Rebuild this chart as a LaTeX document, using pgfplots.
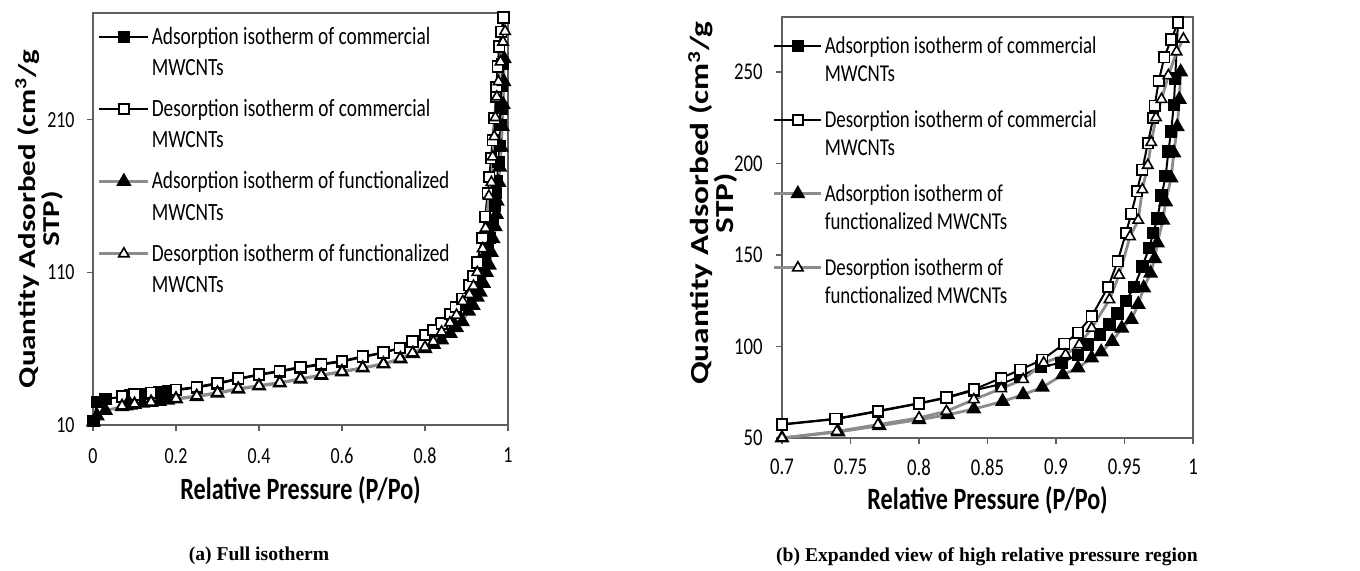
\documentclass[border=0pt]{standalone}
\usepackage{pgfplots}
\usepackage{pgfplotstable}
\pgfplotsset{compat=1.18}
\usepackage{fontspec}
\setmainfont{Carlito}
\newfontfamily\calf{Carlito}[FakeStretch=0.78]
\newfontfamily\calY{Carlito}[FakeStretch=1.28]
\newfontfamily\capf{Liberation Serif}

\definecolor{fgray}{RGB}{140,140,140}
\definecolor{axgray}{RGB}{95,95,95}

% commercial MWCNTs, adsorption
\pgfplotstableread{
x y
0.001 12.5
0.01 25
0.03 27
0.07 28.5
0.08 29
0.09 29.3
0.10 29.7
0.12 30.3
0.14 30.8
0.16 31.3
0.18 32
0.20 32.8
0.25 34.5
0.30 37
0.35 40
0.40 42.8
0.45 45
0.50 47.5
0.55 49.5
0.60 51.5
0.65 54.5
0.70 57.3
0.74 60.4
0.77 64.5
0.80 68.8
0.82 71.9
0.84 76
0.86 79.5
0.874 83.7
0.889 89
0.904 91
0.916 95.5
0.923 101
0.932 106.5
0.939 112
0.945 118
0.951 124.7
0.957 132.5
0.963 143.8
0.968 153.8
0.971 162
0.974 170
0.977 182.5
0.980 193
0.982 206.5
0.984 217.5
0.986 232
0.987 246.5
0.989 277
}\CA
% commercial MWCNTs, desorption
\pgfplotstableread{
x y
0.07 28.8
0.10 30
0.14 31.2
0.20 33.2
0.25 35
0.30 37.5
0.35 40.5
0.40 43.2
0.45 45.5
0.50 48
0.55 50
0.60 52
0.65 55
0.70 57.5
0.739 60.5
0.77 64.8
0.80 69
0.82 72.2
0.84 76.5
0.86 82.8
0.874 87.3
0.89 92.8
0.906 101.5
0.916 107.5
0.926 116.5
0.938 132.5
0.945 146.5
0.951 162
0.955 172.5
0.959 184.8
0.963 196.6
0.967 211
0.971 224.9
0.972 231.6
0.975 245
0.979 258
0.984 267.7
0.989 277
}\CD
% functionalized MWCNTs, adsorption
\pgfplotstableread{
x y
0.001 12
0.01 16
0.03 19.5
0.07 22
0.08 22.5
0.09 23
0.10 23.5
0.12 24.2
0.14 24.8
0.16 25.5
0.18 26.2
0.20 27
0.25 28.6
0.30 30.8
0.35 33.5
0.40 35.5
0.45 37.5
0.50 40
0.55 42.5
0.60 44.8
0.65 47.3
0.70 50
0.741 53.3
0.771 56.7
0.80 60
0.821 62.7
0.84 65.8
0.861 70
0.876 73.7
0.89 77.7
0.905 84.6
0.916 88.3
0.926 93.7
0.933 97
0.941 102.8
0.948 110
0.955 114.7
0.960 123
0.964 132
0.969 140
0.972 148
0.974 156.6
0.978 169
0.980 179
0.984 192
0.986 205.7
0.9885 220
0.990 235
0.991 250
}\FA
% functionalized MWCNTs, desorption
\pgfplotstableread{
x y
0.07 22.5
0.10 23.8
0.14 25
0.20 27.3
0.25 29
0.30 31.2
0.35 33.8
0.40 35.8
0.45 37.8
0.50 40.3
0.55 42.8
0.60 45
0.65 47.6
0.70 50
0.74 53.6
0.77 57.3
0.80 61
0.82 64.6
0.84 71
0.86 77
0.876 82
0.891 91
0.907 95.5
0.917 101
0.926 110
0.939 125.6
0.946 139
0.954 160
0.960 169
0.963 185.7
0.967 199
0.9695 211.5
0.973 225
0.977 235
0.982 248
0.988 261
0.993 268
}\FD

\pgfplotsset{
  isoaxis/.style={
    scale only axis,
    tick align=outside,
    major tick length=3pt,
    xtick pos=bottom, ytick pos=left,
    axis line style={axgray, line width=0.6pt},
    every tick/.style={axgray, line width=0.6pt},
    /pgf/number format/assume math mode=true,
    /pgf/number format/fixed,
    /pgf/number format/precision=2,
    xlabel={Relative Pressure (P/Po)},
    ylabel={Quantity Adsorbed (cm\textsuperscript{3}/g\\STP)},
    xlabel style={anchor=center, font=\calf\bfseries\fontsize{15.5}{18}\selectfont},
    ylabel style={anchor=center, align=center},
    legend cell align=left,
  },
  ca/.style={black, line width=1pt, mark=square*, mark size=2.6pt, mark options={fill=black, draw=black, solid}},
  cd/.style={black, line width=1pt, mark=square*, mark size=2.6pt, mark options={fill=white, draw=black, line width=0.9pt, solid}},
  fa/.style={fgray, line width=1.4pt, mark=triangle*, mark size=3pt, mark options={fill=black, draw=black, solid}},
  fd/.style={fgray, line width=1.4pt, mark=triangle*, mark size=3pt, mark options={fill=white, draw=black, line width=0.8pt, solid}},
}

\begin{document}
\begin{tikzpicture}
\useasboundingbox (0,0) rectangle (680pt,285pt);

% (a) full isotherm
\begin{axis}[isoaxis,
  at={(46.5pt,72.5pt)}, anchor=south west,
  width=207.5pt, height=206pt,
  xmin=0, xmax=1, ymin=10, ymax=280,
  xtick={0,0.2,0.4,0.6,0.8,1},
  ytick={10,110,210},
  tick label style={font=\calf\fontsize{11.5}{12}\selectfont},
  xticklabel style={yshift=-5pt},
  yticklabel style={xshift=-2.7pt},
  xlabel style={at={(axis description cs:0.5,-0.158)}},
  ylabel style={at={(axis description cs:-0.13,0.5)}, font=\calY\bfseries\fontsize{12.1}{12}\selectfont},
  legend style={draw=none, fill=none, at={(axis description cs:0.012,0.971)}, anchor=north west,
    row sep=8.3pt, inner sep=0pt, outer sep=0pt, cells={align=left},
    nodes={inner sep=1pt, font=\calf\fontsize{12.4}{15.75}\selectfont}},
  legend image code/.code={\draw[mark repeat=2,mark phase=2] plot coordinates {(0pt,8pt)(12.25pt,8pt)(24.5pt,8pt)};},
]
\addplot[ca] table {\CA};
\addlegendentry{Adsorption isotherm of commercial\\MWCNTs}
\addplot[cd] table {\CD};
\addlegendentry{Desorption isotherm of commercial\\MWCNTs}
\addplot[fa] table {\FA};
\addlegendentry{Adsorption isotherm of functionalized\\MWCNTs}
\addplot[fd] table {\FD};
\addlegendentry{Desorption isotherm of functionalized\\MWCNTs}
\end{axis}

% (b) expanded view
\begin{axis}[isoaxis,
  at={(391pt,66pt)}, anchor=south west,
  width=205.5pt, height=210.5pt,
  xmin=0.7, xmax=1, ymin=50, ymax=280,
  xtick={0.7,0.75,0.8,0.85,0.9,0.95,1},
  ytick={50,100,150,200,250},
  tick label style={font=\calf\fontsize{12}{12}\selectfont},
  xticklabel style={yshift=-4pt},
  yticklabel style={xshift=-3.2pt},
  xlabel style={at={(axis description cs:0.5,-0.147)}},
  ylabel style={at={(axis description cs:-0.168,0.558)}, font=\calY\bfseries\fontsize{13}{12.6}\selectfont},
  legend style={draw=none, fill=none, at={(axis description cs:-0.022,0.957)}, anchor=north west,
    row sep=11.3pt, inner sep=0pt, outer sep=0pt, cells={align=left},
    nodes={inner sep=1pt, font=\calf\fontsize{12.1}{13.8}\selectfont}},
  legend image code/.code={\draw[mark repeat=2,mark phase=2] plot coordinates {(0pt,7.5pt)(11.75pt,7.5pt)(23.5pt,7.5pt)};},
]
\addplot[ca] table {\CA};
\addlegendentry{Adsorption isotherm of commercial\\MWCNTs}
\addplot[cd] table {\CD};
\addlegendentry{Desorption isotherm of commercial\\MWCNTs}
\addplot[fa] table {\FA};
\addlegendentry{Adsorption isotherm of\\functionalized MWCNTs}
\addplot[fd] table {\FD};
\addlegendentry{Desorption isotherm of\\functionalized MWCNTs}
\end{axis}

\node[font=\capf\bfseries\fontsize{9.8}{11}\selectfont] at (129.5pt,7.3pt) {(a) Full isotherm};
\node[font=\capf\bfseries\fontsize{9.8}{11}\selectfont] at (493.5pt,6.5pt) {(b) Expanded view of high relative pressure region};
\end{tikzpicture}
\end{document}
